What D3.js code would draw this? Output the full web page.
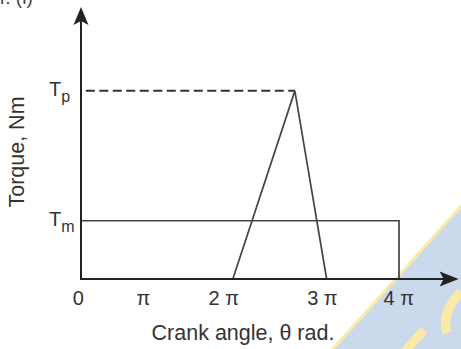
<!DOCTYPE html>
<html>
<head>
<meta charset="utf-8">
<script src="https://cdn.jsdelivr.net/npm/d3@7"></script>
<style>
    body { margin: 0; background: #fff; }
    svg { display: block; font-family: "Liberation Sans", Arial, sans-serif; }
</style>
</head>
<body>
<div id="vis-torque"></div>
<script>
// crank angle in multiples of pi, torque in multiples of Tm
const tickValues = [-0.04, 0.78, 1.79, 3.03, 3.99];
const tickLabels = ["0", "π", "2 π", "3 π", "4 π"];
const meanTorque = [{ x: 0, y: 1 }, { x: 4, y: 1 }, { x: 4, y: 0 }];
const engineTorque = [{ x: 1.91, y: 0 }, { x: 2.69, y: 3.23 }, { x: 3.09, y: 0 }];
const peakLine = [{ x: 0.06, y: 3.23 }, { x: 2.69, y: 3.23 }];
const levelLabels = [{ name: "T", sub: "p", y: 3.23 }, { name: "T", sub: "m", y: 1 }];
const axisMax = { x: 4.75, y: 4.67 };

(function() {
    const width = 461;
    const height = 349;

    const svg = d3.select("#vis-torque")
        .append("svg")
        .attr("width", width)
        .attr("height", height)
        .attr("viewBox", [0, 0, width, height]);

    const x = d3.scaleLinear().domain([0, 4]).range([81, 399]);
    const y = d3.scaleLinear().domain([0, axisMax.y]).range([279, 7]);

    // watermark in the corner
    svg.append("path")
        .attr("d", "M461,206 L332,349 L461,349 Z")
        .attr("fill", "#cbd9ec");
    svg.append("path")
        .attr("d", "M463,204 L332,350")
        .attr("stroke", "#fbeaa6")
        .attr("stroke-width", 3);
    svg.append("path")
        .attr("d", "M404,352 L424,330")
        .attr("stroke", "#fbeaa6")
        .attr("stroke-width", 9);
    svg.append("path")
        .attr("d", "M447,333 Q441,312 461,292")
        .attr("fill", "none")
        .attr("stroke", "#fbeaa6")
        .attr("stroke-width", 9);

    // clipped caption at the top
    svg.append("text")
        .attr("x", 0)
        .attr("y", 4)
        .attr("font-size", 19)
        .attr("fill", "#444")
        .text("r. (i)");

    const line = d3.line().x(d => x(d.x)).y(d => y(d.y));

    svg.append("path")
        .attr("d", line(peakLine))
        .attr("fill", "none")
        .attr("stroke", "#333")
        .attr("stroke-width", 2)
        .attr("stroke-dasharray", "9,4.5");

    svg.append("path")
        .attr("d", line(meanTorque))
        .attr("fill", "none")
        .attr("stroke", "#444")
        .attr("stroke-width", 1.7);

    svg.append("path")
        .attr("d", line(engineTorque))
        .attr("fill", "none")
        .attr("stroke", "#444")
        .attr("stroke-width", 1.7)
        .attr("stroke-linejoin", "miter");

    // axes with arrow heads
    svg.append("line")
        .attr("x1", x(0)).attr("y1", y(0))
        .attr("x2", x(0)).attr("y2", y(axisMax.y) + 10)
        .attr("stroke", "#222")
        .attr("stroke-width", 2);
    svg.append("line")
        .attr("x1", x(0) - 1).attr("y1", y(0))
        .attr("x2", x(axisMax.x) - 10).attr("y2", y(0))
        .attr("stroke", "#222")
        .attr("stroke-width", 2);

    const ax = x(0), ay = y(axisMax.y);
    svg.append("path")
        .attr("d", `M${ax},${ay} L${ax + 7.5},${ay + 18} L${ax},${ay + 14} L${ax - 7.5},${ay + 18} Z`)
        .attr("fill", "#222");
    const bx = x(axisMax.x), by = y(0);
    svg.append("path")
        .attr("d", `M${bx},${by} L${bx - 19},${by - 7.5} L${bx - 15},${by} L${bx - 19},${by + 7.5} Z`)
        .attr("fill", "#222");

    const xAxis = svg.append("g")
        .attr("transform", `translate(0,${y(0)})`)
        .call(d3.axisBottom(x)
            .tickValues(tickValues)
            .tickFormat((d, i) => tickLabels[i])
            .tickSize(0)
            .tickPadding(12));
    xAxis.select(".domain").remove();
    xAxis.selectAll("text")
        .attr("font-size", 20)
        .attr("font-family", "'Liberation Sans', Arial, sans-serif")
        .attr("fill", "#333");

    // level labels with subscripts
    levelLabels.forEach(d => {
        const t = svg.append("text")
            .attr("x", 49)
            .attr("y", y(d.y) + 5)
            .attr("font-size", 20)
            .attr("fill", "#333");
        t.append("tspan").text(d.name);
        t.append("tspan")
            .attr("dy", 6)
            .attr("font-size", 16)
            .text(d.sub);
    });

    svg.append("text")
        .attr("x", (x(0) + x(4)) / 2 + 3)
        .attr("y", 340)
        .attr("text-anchor", "middle")
        .attr("font-size", 21.5)
        .attr("fill", "#333")
        .text("Crank angle, θ rad.");

    svg.append("text")
        .attr("transform", "translate(24,152) rotate(-90)")
        .attr("text-anchor", "middle")
        .attr("font-size", 21.5)
        .attr("fill", "#333")
        .text("Torque, Nm");
})();
</script>
</body>
</html>
